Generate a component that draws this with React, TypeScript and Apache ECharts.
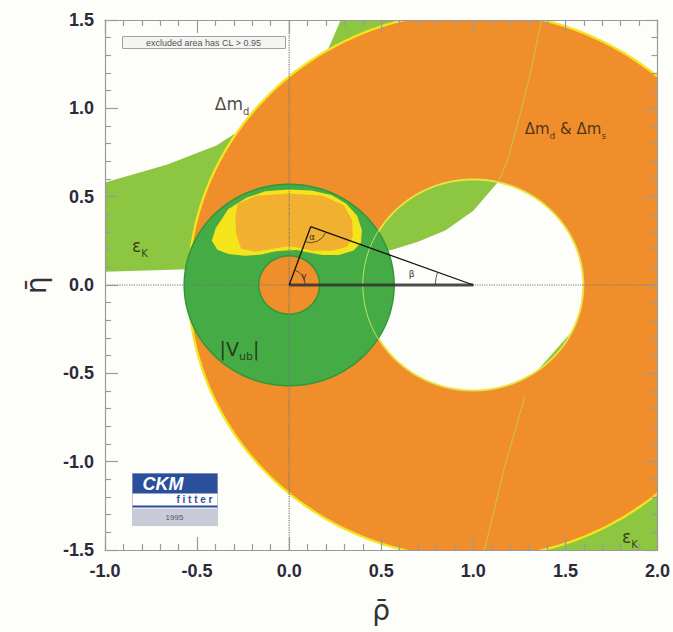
import React, { useEffect, useRef } from "react";
import * as echarts from "echarts";

// ---- axes ----
const X_MIN = -1.0, X_MAX = 2.0, Y_MIN = -1.5, Y_MAX = 1.5, STEP = 0.5;
const X_TICK_LABELS = ["-1.0", "-0.5", "0.0", "0.5", "1.0", "1.5", "2.0"];
const Y_TICK_LABELS = ["-1.5", "-1.0", "-0.5", "0.0", "0.5", "1.0", "1.5"];

// ---- Δm_d & Δm_s annulus (centre, radii) ----
const DM_CENTER: [number, number] = [1.0, 0.0];
const DM_OUTER_R = 1.54;
const DM_INNER_R = 0.6;
const DM_FRINGE_OUTER_R = 1.553;
const DM_FRINGE_INNER_R = 0.592;

// ---- |Vub| annulus ----
const VUB_CENTER: [number, number] = [0.0, 0.0];
const VUB_OUTER_R = 0.57;
const VUB_INNER_R = 0.165;

// ---- εK band (left branch and right branch outlines) ----
const EPSK_LEFT: [number, number][] = [
  [-1.0, 0.58], [-0.665, 0.68], [-0.395, 0.79], [-0.2, 0.92], [0.0, 1.08], [0.15, 1.25],
  [0.216, 1.346], [0.28, 1.5], [1.37, 1.5], [1.31, 1.2], [1.25, 0.95], [1.19, 0.72],
  [1.14, 0.59], [1.0, 0.42], [0.85, 0.31], [0.7, 0.245], [0.56, 0.2], [0.4, 0.165],
  [0.2, 0.135], [0.0, 0.115], [-0.3, 0.1], [-0.6, 0.088], [-1.0, 0.075],
];
const EPSK_RIGHT: [number, number][] = [
  [1.06, -1.5], [1.17, -1.03], [1.28, -0.63], [1.335, -0.5], [1.53, -0.27], [1.75, -0.17],
  [2.0, -0.12], [2.0, -1.5],
];
const EPSK_EDGE_UP: [number, number][] = [[1.14, 0.59], [1.19, 0.72], [1.25, 0.95], [1.31, 1.2], [1.37, 1.5]];
const EPSK_EDGE_DOWN: [number, number][] = [[1.06, -1.5], [1.17, -1.03], [1.28, -0.63]];

// ---- global fit contours ----
const FIT_OUTER: [number, number][] = [
  [-0.42, 0.25], [-0.40, 0.32], [-0.33, 0.43], [-0.23, 0.495], [-0.13, 0.53], [0.0, 0.54],
  [0.12, 0.535], [0.23, 0.51], [0.31, 0.46], [0.37, 0.39], [0.395, 0.31], [0.39, 0.24],
  [0.35, 0.195], [0.27, 0.17], [0.18, 0.17], [0.10, 0.185], [0.04, 0.198], [-0.02, 0.195],
  [-0.08, 0.19], [-0.15, 0.172], [-0.24, 0.165], [-0.33, 0.175], [-0.39, 0.20],
];
const FIT_INNER: [number, number][] = [
  [-0.28, 0.46], [-0.18, 0.505], [0.0, 0.518], [0.18, 0.505], [0.297, 0.452], [0.342, 0.367],
  [0.346, 0.273], [0.315, 0.216], [0.234, 0.194], [0.126, 0.194], [0.036, 0.214], [-0.018, 0.218],
  [-0.09, 0.205], [-0.18, 0.188], [-0.261, 0.205], [-0.288, 0.292], [-0.292, 0.386],
];

// ---- unitarity triangle ----
const TRI_ORIGIN: [number, number] = [0.0, 0.0];
const TRI_ONE: [number, number] = [1.0, 0.0];
const TRI_APEX: [number, number] = [0.117, 0.33];

// ---- text labels ----
const LABELS = [
  { pos: [-0.31, 1.04], text: "{m|Δm}{s|d}", size: 17 },
  { pos: [1.5, 0.9], text: "{m|Δm}{s|d}{m| & Δm}{s|s}", size: 15 },
  { pos: [-0.81, 0.24], text: "{m|ε}{s|K}", size: 17 },
  { pos: [1.85, -1.41], text: "{m|ε}{s|K}", size: 17 },
  { pos: [-0.27, -0.345], text: "{m||V}{s|ub}{m||}", size: 19 },
];
const ANGLE_LABELS = [
  { pos: [0.124, 0.27], text: "α" },
  { pos: [0.665, 0.06], text: "β" },
  { pos: [0.08, 0.05], text: "γ" },
];

const C_ORANGE = "#EF8E2B";
const C_YELLOW = "#F4E41C";
const C_LIGHTGREEN = "#8DC641";
const C_GREEN = "#45AB44";
const C_FITINNER = "#F1B02F";

function ringPath(api: any, c: number[], rOut: number, rIn: number) {
  const N = 360;
  const loop = (r: number, dir: number) => {
    let s = "";
    for (let i = 0; i <= N; i++) {
      const t = (dir * 2 * Math.PI * i) / N;
      const p = api.coord([c[0] + r * Math.cos(t), c[1] + r * Math.sin(t)]);
      s += (i === 0 ? "M" : "L") + p[0].toFixed(2) + "," + p[1].toFixed(2);
    }
    return s + "Z";
  };
  return loop(rOut, 1) + (rIn > 0 ? loop(rIn, -1) : "");
}

function customSeries(z: number, renderItem: any) {
  return {
    type: "custom",
    coordinateSystem: "cartesian2d",
    clip: true,
    silent: true,
    z,
    data: [[0, 0]],
    renderItem,
  };
}

function polygonSeries(z: number, pts: [number, number][], fill: string) {
  return customSeries(z, (_p: any, api: any) => ({
    type: "polygon",
    shape: { points: pts.map((p) => api.coord(p)) },
    style: { fill, stroke: "none" },
  }));
}

function ringSeries(z: number, c: number[], rOut: number, rIn: number, fill: string, stroke = "none", lw = 0) {
  return customSeries(z, (_p: any, api: any) => ({
    type: "path",
    shape: { pathData: ringPath(api, c, rOut, rIn) },
    style: { fill, stroke, lineWidth: lw },
  }));
}

function circleLineSeries(z: number, c: number[], r: number, stroke: string, lw: number) {
  return customSeries(z, (_p: any, api: any) => {
    const pts: number[][] = [];
    for (let i = 0; i <= 360; i++) {
      const t = (2 * Math.PI * i) / 360;
      pts.push(api.coord([c[0] + r * Math.cos(t), c[1] + r * Math.sin(t)]));
    }
    return { type: "polyline", shape: { points: pts }, style: { stroke, lineWidth: lw, fill: "none" } };
  });
}

function polylineSeries(z: number, pts: [number, number][], stroke: string, lw: number) {
  return customSeries(z, (_p: any, api: any) => ({
    type: "polyline",
    shape: { points: pts.map((p) => api.coord(p)) },
    style: { stroke, lineWidth: lw, fill: "none" },
  }));
}

function angleArc(api: any, v: number[], a: number[], b: number[], r: number) {
  const pv = api.coord(v), pa = api.coord(a), pb = api.coord(b);
  const a1 = Math.atan2(pa[1] - pv[1], pa[0] - pv[0]);
  let d = Math.atan2(pb[1] - pv[1], pb[0] - pv[0]) - a1;
  while (d > Math.PI) d -= 2 * Math.PI;
  while (d <= -Math.PI) d += 2 * Math.PI;
  const s = d > 0 ? a1 : a1 + d;
  const e = d > 0 ? a1 + d : a1;
  return {
    type: "arc",
    shape: { cx: pv[0], cy: pv[1], r, startAngle: s, endAngle: e, clockwise: true },
    style: { stroke: "#333", lineWidth: 0.8, fill: "none" },
  };
}

const axisCommon = {
  type: "value" as const,
  interval: STEP,
  axisLine: { show: true, onZero: false, lineStyle: { color: "#9a9a9a", width: 1.2 } },
  axisTick: { show: true, inside: true, length: 13, lineStyle: { color: "#9a9a9a", width: 1.2 } },
  minorTick: { show: true, splitNumber: 5, length: 6, lineStyle: { color: "#9a9a9a", width: 1.2 } },
  splitLine: { show: false },
  z: 50,
};

const labelStyle = {
  fontSize: 18,
  fontWeight: "bold" as const,
  color: "#2a2a3a",
  fontFamily: "Liberation Sans",
};

export default function App() {
  const ref = useRef<HTMLDivElement>(null);
  useEffect(() => {
    if (!ref.current) return;
    const chart = echarts.init(ref.current, undefined, { renderer: "svg" });

    const triangleSeries = customSeries(30, (_p: any, api: any) => {
      const o = api.coord(TRI_ORIGIN), one = api.coord(TRI_ONE), ap = api.coord(TRI_APEX);
      return {
        type: "group",
        children: [
          { type: "line", shape: { x1: o[0], y1: o[1], x2: one[0], y2: one[1] }, style: { stroke: "rgba(50,50,50,0.85)", lineWidth: 3 } },
          { type: "line", shape: { x1: o[0], y1: o[1], x2: ap[0], y2: ap[1] }, style: { stroke: "#111", lineWidth: 1.3 } },
          { type: "line", shape: { x1: ap[0], y1: ap[1], x2: one[0], y2: one[1] }, style: { stroke: "#111", lineWidth: 1.3 } },
          angleArc(api, TRI_ORIGIN, TRI_ONE, TRI_APEX, 16),
          angleArc(api, TRI_APEX, TRI_ORIGIN, TRI_ONE, 16),
          angleArc(api, TRI_ONE, TRI_ORIGIN, TRI_APEX, 38),
          ...ANGLE_LABELS.map((l) => {
            const p = api.coord(l.pos);
            return {
              type: "text",
              x: p[0],
              y: p[1],
              style: { text: l.text, fontSize: 9, fill: "#333", align: "center", verticalAlign: "middle", fontFamily: "DejaVu Sans" },
            };
          }),
        ],
      };
    });

    const textSeries = {
      type: "scatter",
      z: 40,
      silent: true,
      symbolSize: 0,
      data: LABELS.map((l) => ({
        value: l.pos,
        label: {
          show: true,
          position: "inside",
          formatter: l.text,
          rich: {
            m: { fontSize: l.size, color: "#231a14", fontFamily: "DejaVu Sans", lineHeight: l.size + 6, verticalAlign: "bottom" },
            s: { fontSize: Math.round(l.size * 0.6), color: "#231a14", fontFamily: "DejaVu Sans", lineHeight: l.size + 6, verticalAlign: "bottom", padding: [0, 0, -4, 0] },
          },
        },
      })),
    };

    chart.setOption({
      animation: false,
      backgroundColor: "#fdfdfa",
      grid: { left: 105, right: 13, top: 20, bottom: 82, containLabel: false },
      xAxis: [
        {
          ...axisCommon,
          min: X_MIN,
          max: X_MAX,
          position: "bottom",
          axisLabel: { ...labelStyle, margin: 12, formatter: (_v: number, i: number) => X_TICK_LABELS[i] },
          name: "ρ̄",
          nameLocation: "middle",
          nameGap: 46,
          nameTextStyle: { fontSize: 28, color: "#333", fontFamily: "DejaVu Sans" },
        },
        { ...axisCommon, min: X_MIN, max: X_MAX, position: "top", axisLabel: { show: false } },
      ],
      yAxis: [
        {
          ...axisCommon,
          min: Y_MIN,
          max: Y_MAX,
          position: "left",
          axisLabel: { ...labelStyle, margin: 11, formatter: (_v: number, i: number) => Y_TICK_LABELS[i] },
          name: "η̄",
          nameLocation: "middle",
          nameGap: 55,
          nameRotate: 90,
          nameTextStyle: { fontSize: 28, color: "#333", fontFamily: "DejaVu Sans" },
        },
        { ...axisCommon, min: Y_MIN, max: Y_MAX, position: "right", axisLabel: { show: false } },
      ],
      series: [
        polygonSeries(2, EPSK_LEFT, C_LIGHTGREEN),
        polygonSeries(3, EPSK_RIGHT, C_LIGHTGREEN),
        ringSeries(4, DM_CENTER, DM_FRINGE_OUTER_R, DM_FRINGE_INNER_R, C_YELLOW),
        ringSeries(5, DM_CENTER, DM_OUTER_R, DM_INNER_R, C_ORANGE),
        polylineSeries(6, EPSK_EDGE_UP, "rgba(190,215,90,0.75)", 1),
        polylineSeries(6, EPSK_EDGE_DOWN, "rgba(190,215,90,0.75)", 1),
        ringSeries(7, VUB_CENTER, VUB_OUTER_R, VUB_INNER_R, C_GREEN, "#33963a", 1.5),
        circleLineSeries(8, DM_CENTER, DM_INNER_R, "rgba(215,235,120,0.85)", 1),
        polygonSeries(9, FIT_OUTER, C_YELLOW),
        polygonSeries(10, FIT_INNER, C_FITINNER),
        {
          type: "line",
          z: 20,
          silent: true,
          showSymbol: false,
          data: [[X_MIN, 0], [X_MAX, 0]],
          lineStyle: { type: "dotted", color: "#777", width: 1.2 },
        },
        {
          type: "line",
          z: 20,
          silent: true,
          showSymbol: false,
          data: [[0, Y_MIN], [0, Y_MAX]],
          lineStyle: { type: "dotted", color: "#777", width: 1.2 },
        },
        triangleSeries,
        textSeries,
      ],
      graphic: [
        {
          type: "group",
          left: 122,
          top: 36,
          z: 60,
          children: [
            { type: "rect", shape: { x: 0, y: 0, width: 163, height: 12 }, style: { fill: "#f4f4f2", stroke: "#a0a0a0", lineWidth: 1 } },
            { type: "text", x: 81, y: 6, style: { text: "excluded area has CL > 0.95", fontSize: 9, fill: "#555", align: "center", verticalAlign: "middle", fontFamily: "Liberation Sans" } },
          ],
        },
        {
          type: "group",
          left: 132,
          top: 473,
          z: 60,
          children: [
            { type: "rect", shape: { x: 0, y: 0, width: 85, height: 52 }, style: { fill: "#ffffff", stroke: "#c8c8d0", lineWidth: 1 } },
            { type: "rect", shape: { x: 0, y: 0, width: 85, height: 20 }, style: { fill: "#2c4f9c" } },
            { type: "text", x: 10, y: 10, style: { text: "CKM", fontSize: 18, fontWeight: "bold", fontStyle: "italic", fill: "#ffffff", verticalAlign: "middle", fontFamily: "Liberation Sans" } },
            { type: "rect", shape: { x: 0, y: 32, width: 85, height: 2 }, style: { fill: "#2c4f9c" } },
            { type: "text", x: 80, y: 26, style: { text: "f i t t e r", fontSize: 10, fontWeight: "bold", fill: "#2c4f9c", align: "right", verticalAlign: "middle", fontFamily: "Liberation Sans" } },
            { type: "rect", shape: { x: 0, y: 35, width: 85, height: 17 }, style: { fill: "#c9cbd9" } },
            { type: "text", x: 42, y: 44, style: { text: "1995", fontSize: 8, fill: "#555", align: "center", verticalAlign: "middle", fontFamily: "Liberation Sans" } },
          ],
        },
      ],
    });
    return () => chart.dispose();
  }, []);
  return <div ref={ref} style={{ position: "fixed", left: 0, top: 0, width: 673, height: 632 }} />;
}
